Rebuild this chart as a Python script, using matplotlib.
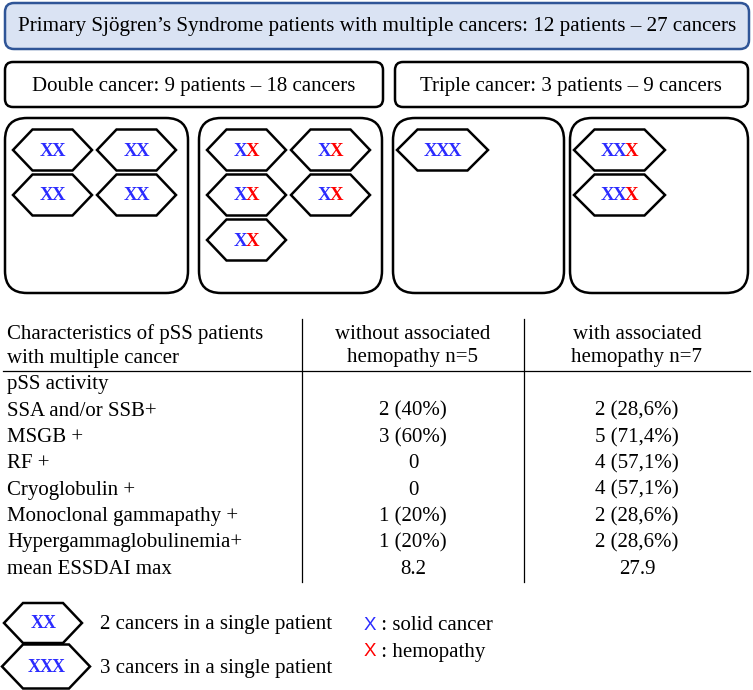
import numpy as np
import matplotlib
matplotlib.use("Agg")
import matplotlib.pyplot as plt
from matplotlib.patches import FancyBboxPatch, Polygon

plt.rcParams['font.family'] = ['Liberation Serif', 'DejaVu Serif']

BLUE = '#2b2bff'
RED = '#ff0000'

title = "Primary Sjögren\u2019s Syndrome patients with multiple cancers: 12 patients \u2013 27 cancers"
group_titles = ["Double cancer: 9 patients \u2013 18 cancers", "Triple cancer: 3 patients \u2013 9 cancers"]

# each panel: list of patients, each patient a string of b (solid) / r (hemopathy)
panels = [["bb"] * 4, ["br"] * 5, ["bbb"], ["bbr"] * 2]

col_headers = ["Characteristics of pSS patients\nwith multiple cancer",
               "without associated\nhemopathy n=5",
               "with associated\nhemopathy n=7"]
row_labels = ["pSS activity", "SSA and/or SSB+", "MSGB +", "RF +", "Cryoglobulin +",
              "Monoclonal gammapathy +", "Hypergammaglobulinemia+", "mean ESSDAI max"]
without_hemo = ["", "2 (40%)", "3 (60%)", "0", "0", "1 (20%)", "1 (20%)", "8.2"]
with_hemo = ["", "2 (28,6%)", "5 (71,4%)", "4 (57,1%)", "4 (57,1%)", "2 (28,6%)", "2 (28,6%)", "27.9"]

legend_hex = [("bb", "2 cancers in a single patient"), ("bbb", "3 cancers in a single patient")]
legend_col = [(BLUE, ": solid cancer"), (RED, ": hemopathy")]

fig = plt.figure(figsize=(7.53, 6.9), dpi=100)
ax = fig.add_axes([0, 0, 1, 1])
ax.set_xlim(0, 753)
ax.set_ylim(690, 0)
ax.axis('off')

FS = 15


def rbox(x0, y0, x1, y1, r, fc='white', ec='black', lw=1.8):
    p = FancyBboxPatch((x0, y0), x1 - x0, y1 - y0,
                       boxstyle="round,pad=0,rounding_size=%g" % r,
                       fc=fc, ec=ec, lw=lw)
    ax.add_patch(p)


def hexagon(cx, cy, w, h, a, lw=1.8):
    pts = [(cx - w / 2, cy), (cx - a, cy - h / 2), (cx + a, cy - h / 2),
           (cx + w / 2, cy), (cx + a, cy + h / 2), (cx - a, cy + h / 2)]
    ax.add_patch(Polygon(pts, closed=True, fc='white', ec='black', lw=lw, joinstyle='miter'))


def xs(cx, cy, code, fs=13.5):
    # coloured X letters, one by one
    adv = 0.66 * fs * 100 / 72
    x0 = cx - adv * len(code) / 2 + adv / 2
    for i, c in enumerate(code):
        ax.text(x0 + i * adv, cy + 1, "X", color=BLUE if c == 'b' else RED,
                fontsize=fs, fontweight='bold', ha='center', va='center')


# title
rbox(5, 3, 749, 49, 9, fc='#dae3f3', ec='#2f5597', lw=1.8)
ax.text(377, 26, title, ha='center', va='center', fontsize=15.2)

# group headers
rbox(5, 62, 383, 107, 8)
rbox(395, 62, 748, 107, 8)
ax.text(194, 86, group_titles[0], ha='center', va='center', fontsize=15)
ax.text(571, 86, group_titles[1], ha='center', va='center', fontsize=15)

# panels
panel_x = [(5, 188), (199, 382), (393, 564), (570, 748)]
for (x0, x1), pats in zip(panel_x, panels):
    rbox(x0, 118, x1, 293, 22)
    for k, code in enumerate(pats):
        if len(code) == 2:
            w, a = 79, 20
            cx = x0 + 8 + w / 2 + (k % 2) * 84
            cy = 150 + (k // 2) * 45
        else:
            w, a = 91, 25
            cx = x0 + 4 + w / 2
            cy = 150 + k * 45
        hexagon(cx, cy, w, 41, a)
        xs(cx, cy, code)

# table
ax.plot([302, 302], [319, 582], color='black', lw=0.9)
ax.plot([524, 524], [319, 582], color='black', lw=0.9)
ax.plot([3, 750], [371, 371], color='black', lw=0.9)
ax.text(7, 346, col_headers[0], ha='left', va='center', fontsize=FS, linespacing=1.3)
ax.text(413, 346, col_headers[1], ha='center', va='center', fontsize=FS, linespacing=1.3)
ax.text(637, 346, col_headers[2], ha='center', va='center', fontsize=FS, linespacing=1.3)
for i, lab in enumerate(row_labels):
    y = 385 + i * 26.3
    ax.text(7, y, lab, ha='left', va='center', fontsize=FS)
    ax.text(413, y, without_hemo[i], ha='center', va='center', fontsize=FS)
    ax.text(637, y, with_hemo[i], ha='center', va='center', fontsize=FS)

# legend
for k, (code, lab) in enumerate(legend_hex):
    cy = 623 + k * 43.5
    if len(code) == 2:
        hexagon(43, cy, 78, 40, 20)
        xs(43, cy, code, fs=13)
    else:
        hexagon(46, cy, 88, 44, 23)
        xs(46, cy, code, fs=13)
    ax.text(100, cy + 2, lab, ha='left', va='center', fontsize=FS)
for k, (c, lab) in enumerate(legend_col):
    y = 626 + k * 26
    t = ax.text(364, y, "X", color=c, family='Liberation Sans', fontsize=13.5, ha='left', va='center')
    ax.annotate(" " + lab, xy=(1, 0.5), xycoords=t, ha='left', va='center', fontsize=FS)

fig.savefig("out.png", dpi=100)
